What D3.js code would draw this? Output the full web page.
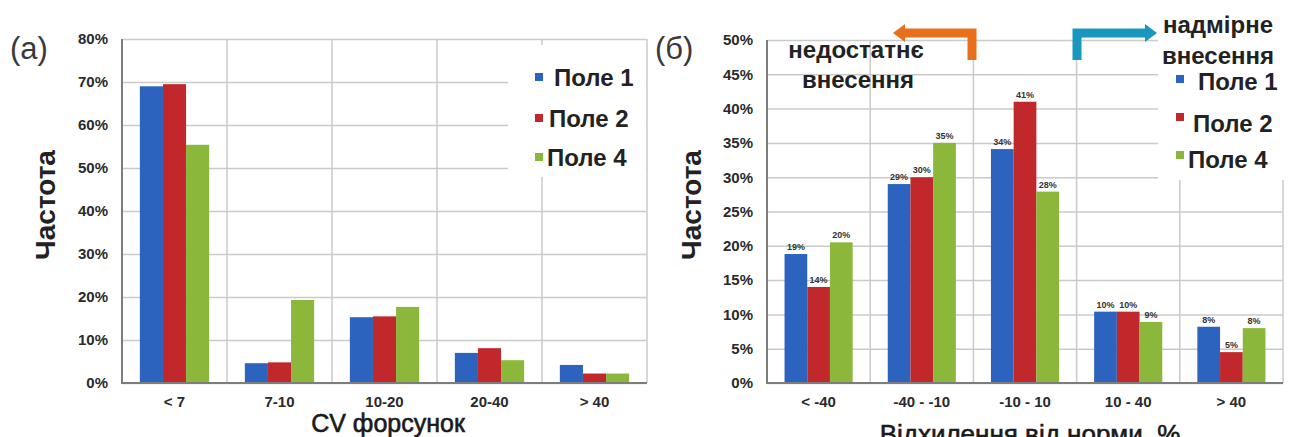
<!DOCTYPE html>
<html><head><meta charset="utf-8">
<script src="https://cdn.jsdelivr.net/npm/d3@7/dist/d3.min.js"></script>
<style>
html,body{margin:0;padding:0;background:#fff;}
svg{display:block;font-family:Arial,"Liberation Sans",sans-serif;}
</style></head>
<body>
<svg id="c" width="1296" height="437"></svg>
<script>
// ---- data ----
const seriesNames = ["Поле 1", "Поле 2", "Поле 4"];
const seriesColors = ["#2b63bf", "#c0282b", "#8bb73a"];

const categoriesA = ["< 7", "7-10", "10-20", "20-40", "> 40"];
const pole1A = [69.0, 4.6, 15.3, 7.0, 4.2];
const pole2A = [69.5, 4.8, 15.5, 8.1, 2.2];
const pole4A = [55.4, 19.3, 17.7, 5.3, 2.2];
const ticksA = [0, 10, 20, 30, 40, 50, 60, 70, 80];

const categoriesB = ["< -40", "-40 - -10", "-10 - 10", "10 - 40", "> 40"];
const pole1B = [18.8, 29.0, 34.1, 10.4, 8.2];
const pole2B = [14.0, 30.0, 41.0, 10.4, 4.5];
const pole4B = [20.5, 35.0, 27.9, 8.9, 8.0];
const labels1B = ["19%", "29%", "34%", "10%", "8%"];
const labels2B = ["14%", "30%", "41%", "10%", "5%"];
const labels4B = ["20%", "35%", "28%", "9%", "8%"];
const ticksB = [0, 5, 10, 15, 20, 25, 30, 35, 40, 45, 50];

const svg = d3.select("#c");

function panel(o) {
  const g = svg.append("g");
  const x = d3.scaleBand().domain(o.cats).range([o.x0, o.x1]).padding(0);
  const bw = x.bandwidth();
  const xs = d3.scaleBand().domain(seriesNames).range([bw * 0.17, bw * 0.83]).padding(0);
  const y = d3.scaleLinear().domain([0, o.max]).range([383, o.yTop]);

  // horizontal gridlines
  g.append("g").attr("transform", `translate(${o.x0},0)`)
    .call(d3.axisLeft(y).tickValues(o.ticks).tickSize(-(o.x1 - o.x0)).tickFormat(""))
    .call(s => s.select(".domain").remove())
    .call(s => s.selectAll("line").attr("stroke", "#cacaca").attr("stroke-width", 1.5));
  // vertical gridlines at band boundaries
  const bounds = o.cats.map(c => x(c) + bw);
  g.selectAll(".vg").data(bounds).enter().append("line")
    .attr("x1", d => d).attr("x2", d => d).attr("y1", y(o.max)).attr("y2", 383)
    .attr("stroke", "#cacaca").attr("stroke-width", 1.5);

  // legend background (covers gridlines)
  g.append("rect").attr("x", o.legBox[0]).attr("y", o.legBox[1])
    .attr("width", o.legBox[2]).attr("height", o.legBox[3]).attr("fill", "#fff");

  // bars
  o.series.forEach((vals, si) => {
    g.selectAll(".b" + si).data(vals).enter().append("rect")
      .attr("x", (d, i) => x(o.cats[i]) + xs(seriesNames[si]))
      .attr("width", xs.bandwidth())
      .attr("y", d => y(d)).attr("height", d => 383 - y(d))
      .attr("fill", seriesColors[si]);
    if (o.labels) {
      g.selectAll(".l" + si).data(vals).enter().append("text")
        .attr("x", (d, i) => x(o.cats[i]) + xs(seriesNames[si]) + xs.bandwidth() / 2)
        .attr("y", d => y(d) - 4)
        .attr("text-anchor", "middle").attr("font-size", 9).attr("font-weight", "bold")
        .attr("fill", "#333")
        .text((d, i) => o.labels[si][i]);
    }
  });

  // axes lines
  g.append("line").attr("x1", o.x0).attr("x2", o.x0).attr("y1", y(o.max)).attr("y2", 384)
    .attr("stroke", "#7d7d7d").attr("stroke-width", 2);
  g.append("line").attr("x1", o.x0).attr("x2", o.x1).attr("y1", 383).attr("y2", 383)
    .attr("stroke", "#7d7d7d").attr("stroke-width", 2);

  // y tick labels
  g.append("g").attr("transform", `translate(${o.x0 - 11},0)`)
    .call(d3.axisLeft(y).tickValues(o.ticks).tickSize(0).tickFormat(d => d + "%"))
    .call(s => s.select(".domain").remove())
    .call(s => s.selectAll("text").attr("font-size", 15).attr("font-weight", "bold")
      .attr("fill", "#2a2a2a").attr("font-family", "Arial,'Liberation Sans',sans-serif"));

  // x tick labels
  g.append("g").attr("transform", `translate(0,393)`)
    .call(d3.axisBottom(x).tickSize(0))
    .call(s => s.select(".domain").remove())
    .call(s => s.selectAll("text").attr("font-size", 15).attr("font-weight", "bold")
      .attr("fill", "#2a2a2a").attr("font-family", "Arial,'Liberation Sans',sans-serif"));

  // axis titles
  g.append("text").attr("transform", `translate(${o.yTitleX},205) rotate(-90)`)
    .attr("text-anchor", "middle").attr("font-size", 28).attr("font-weight", "bold")
    .attr("fill", "#222").text("Частота");
  g.append("text").attr("x", o.xTitleX).attr("y", o.xTitleY)
    .attr("text-anchor", "middle").attr("font-size", o.xTitleSize).attr("fill", "#1a1a1a")
    .attr("stroke", "#1a1a1a").attr("stroke-width", 0.6)
    .text(o.xTitle);

  // panel letter
  g.append("text").attr("x", o.letterX).attr("y", 59).attr("font-size", 31)
    .attr("fill", "#3a3a3a").text(o.letter);

  // legend
  o.legItems.forEach((it, i) => {
    g.append("rect").attr("x", it[0]).attr("y", it[1]).attr("width", 8).attr("height", 8)
      .attr("fill", seriesColors[i]);
    g.append("text").attr("x", it[2]).attr("y", it[3]).attr("font-size", 24)
      .attr("font-weight", "bold").attr("fill", "#222").text(seriesNames[i]);
  });
  return g;
}

panel({
  cats: categoriesA, series: [pole1A, pole2A, pole4A], max: 80, ticks: ticksA,
  x0: 122, x1: 647, yTop: 39, yTitleX: 55, xTitleX: 388, xTitleY: 432, xTitleSize: 25,
  xTitle: "CV форсунок", letter: "(a)", letterX: 10,
  legBox: [508, 45, 138, 132],
  legItems: [[535, 73, 554, 86], [535, 114, 549, 127], [535, 153, 547, 166]]
});

const gB = panel({
  cats: categoriesB, series: [pole1B, pole2B, pole4B], max: 50, ticks: ticksB,
  labels: [labels1B, labels2B, labels4B],
  x0: 767, x1: 1283, yTop: 40, yTitleX: 701, xTitleX: 1030, xTitleY: 443, xTitleSize: 26,
  xTitle: "Відхилення від норми, %", letter: "(б)", letterX: 655,
  legBox: [1158, 0, 138, 180],
  legItems: [[1176, 75, 1198, 90], [1176, 113, 1193, 132], [1176, 151, 1188, 168]]
});

// annotations panel (б)
gB.append("text").attr("x", 856).attr("y", 58).attr("text-anchor", "middle")
  .attr("font-size", 24).attr("font-weight", "bold").attr("fill", "#222").text("недостатнє");
gB.append("text").attr("x", 858).attr("y", 88).attr("text-anchor", "middle")
  .attr("font-size", 24).attr("font-weight", "bold").attr("fill", "#222").text("внесення");
gB.append("text").attr("x", 1163).attr("y", 33)
  .attr("font-size", 24).attr("font-weight", "bold").attr("fill", "#222").text("надмірне");
gB.append("text").attr("x", 1162).attr("y", 64)
  .attr("font-size", 24).attr("font-weight", "bold").attr("fill", "#222").text("внесення");

// orange arrow (left)
gB.append("path").attr("d", "M972,60 L972,33 L903,33")
  .attr("fill", "none").attr("stroke", "#e8701c").attr("stroke-width", 9);
gB.append("path").attr("d", "M893,33 L905,24 L905,42 Z").attr("fill", "#e8701c");
// blue arrow (right)
gB.append("path").attr("d", "M1077,60 L1077,33 L1146,33")
  .attr("fill", "none").attr("stroke", "#1a97bf").attr("stroke-width", 9);
gB.append("path").attr("d", "M1157,33 L1145,24 L1145,42 Z").attr("fill", "#1a97bf");
</script>
</body></html>
